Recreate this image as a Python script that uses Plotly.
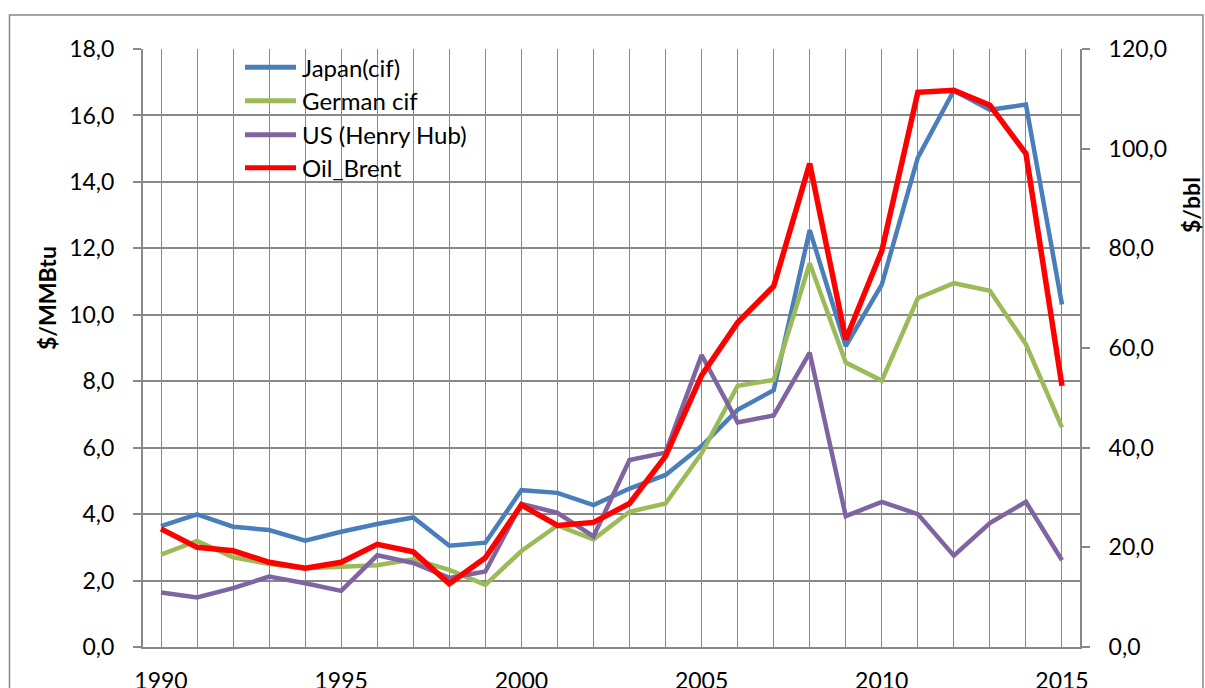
import plotly.graph_objects as go

years = list(range(1990, 2016))
japan = [3.64, 3.99, 3.62, 3.52, 3.20, 3.47, 3.70, 3.90, 3.05, 3.14,
         4.72, 4.64, 4.27, 4.77, 5.18, 6.05, 7.14, 7.73, 12.55, 9.06,
         10.91, 14.73, 16.75, 16.17, 16.33, 10.31]
german = [2.78, 3.19, 2.70, 2.50, 2.37, 2.40, 2.46, 2.64, 2.32, 1.87,
          2.89, 3.66, 3.24, 4.07, 4.32, 5.83, 7.86, 8.04, 11.55, 8.56,
          8.02, 10.50, 10.95, 10.72, 9.11, 6.61]
us_hh = [1.64, 1.49, 1.77, 2.12, 1.92, 1.69, 2.76, 2.53, 2.08, 2.27,
         4.31, 4.04, 3.33, 5.63, 5.85, 8.79, 6.76, 6.97, 8.86, 3.94,
         4.37, 4.00, 2.75, 3.73, 4.37, 2.61]
brent = [23.7, 20.0, 19.3, 17.0, 15.8, 17.0, 20.6, 19.1, 12.7, 17.9,
         28.5, 24.4, 25.0, 28.8, 38.3, 54.5, 65.1, 72.4, 97.0, 61.7,
         79.5, 111.3, 111.7, 108.7, 99.0, 52.4]

names = ["Japan(cif)", "German cif", "US (Henry Hub)", "Oil_Brent"]
colors = ["#4A7EBB", "#9BBB59", "#8064A2", "#FF0000"]
widths = [4.5, 4.5, 4.5, 5.5]
series = [japan, german, us_hh, brent]
left_ticks = [0, 2, 4, 6, 8, 10, 12, 14, 16, 18]
right_ticks = [0, 20, 40, 60, 80, 100, 120]

FONT = "Lato, Carlito, 'Liberation Sans', sans-serif"
W, H = 1205, 688
L, R, T, B = 143, 125, 49, 41
PW, PH = W - L - R, H - T - B

def px(xp):
    return (xp - L) / PW

def py(yp):
    return (H - B - yp) / PH

fig = go.Figure()
for i, (nm, vals) in enumerate(zip(names, series)):
    fig.add_trace(go.Scatter(
        x=years, y=vals, name=nm, mode="lines",
        line=dict(color=colors[i], width=widths[i]),
        yaxis="y2" if nm == "Oil_Brent" else "y",
        showlegend=False, hoverinfo="skip",
    ))

grid_col = "#888888"
fig.update_layout(
    width=W, height=H,
    margin=dict(l=L, r=R, t=T, b=B, pad=0, autoexpand=False),
    paper_bgcolor="white", plot_bgcolor="white",
    separators=", ",
    font=dict(family=FONT, size=23, color="black"),
    xaxis=dict(
        range=[1989.5, 2015.5], automargin=False,
        tickmode="array", tickvals=years,
        ticktext=[str(y) if y % 5 == 0 else "" for y in years],
        showgrid=True, gridcolor=grid_col, gridwidth=1,
        showline=True, linecolor=grid_col, linewidth=2,
        ticks="", zeroline=False,
        tickfont=dict(size=23),
        ticklabelstandoff=12,
    ),
    yaxis=dict(
        range=[0, 18], tickvals=left_ticks, tickformat=".1f", automargin=False,
        showgrid=True, gridcolor=grid_col, gridwidth=2,
        showline=True, linecolor=grid_col, linewidth=2,
        ticks="outside", ticklen=8, tickwidth=2, tickcolor=grid_col,
        zeroline=False, tickfont=dict(size=23),
        ticklabelstandoff=14,
    ),
    yaxis2=dict(
        range=[0, 120], tickvals=right_ticks, tickformat=".1f", automargin=False,
        overlaying="y", side="right", showgrid=False,
        showline=True, linecolor=grid_col, linewidth=2,
        ticks="outside", ticklen=8, tickwidth=2, tickcolor=grid_col,
        zeroline=False, tickfont=dict(size=23),
        ticklabelstandoff=14,
    ),
)

shapes = [dict(type="rect", xref="paper", yref="paper",
               x0=px(9.5), x1=px(1203), y0=py(720), y1=py(15),
               line=dict(color=grid_col, width=1.5), layer="below")]
annotations = [
    dict(text="<b>$/MMBtu</b>", xref="paper", yref="paper", x=px(47), y=py(298),
         xanchor="center", yanchor="middle",
         textangle=-90, showarrow=False, font=dict(size=23)),
    dict(text="<b>$/bbl</b>", xref="paper", yref="paper", x=px(1191), y=py(205),
         xanchor="center", yanchor="middle",
         textangle=-90, showarrow=False, font=dict(size=23)),
]
leg_y = [67.3, 100.7, 134.7, 167.7]
for i, nm in enumerate(names):
    shapes.append(dict(type="line", xref="paper", yref="paper",
                       x0=px(245), x1=px(296), y0=py(leg_y[i]), y1=py(leg_y[i]),
                       line=dict(color=colors[i], width=5)))
    annotations.append(dict(text=nm, xref="paper", yref="paper", x=px(300), y=py(leg_y[i]),
                            xanchor="left", yanchor="middle", showarrow=False,
                            font=dict(size=24)))
fig.update_layout(shapes=shapes, annotations=annotations)

fig.write_html("out.html",
               config={"displayModeBar": False},
               post_script="document.body.style.margin='0';document.body.style.overflow='hidden';")
